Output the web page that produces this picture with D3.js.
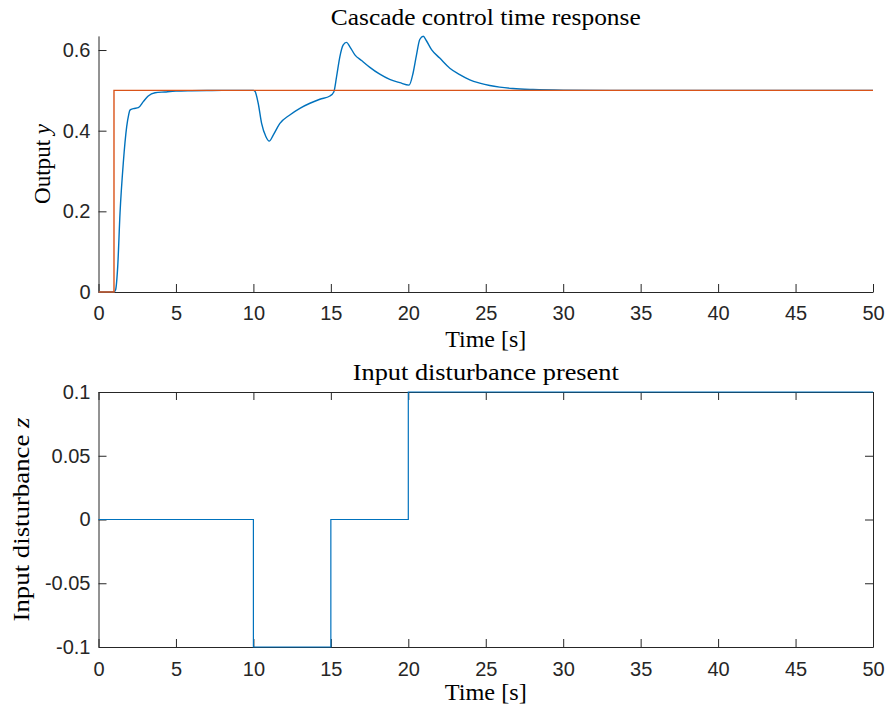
<!DOCTYPE html>
<html>
<head>
<meta charset="utf-8">
<script src="https://cdn.jsdelivr.net/npm/d3@7"></script>
<style>
  html, body { margin: 0; padding: 0; background: #fff; }
  svg { display: block; }
  .tick text { font-family: "Liberation Sans", Arial, sans-serif; font-size: 20px; fill: #262626; }
  .tick line { stroke: #262626; stroke-width: 1; }
  .domain { stroke: #262626; stroke-width: 1; }
  .lbl { font-family: "Liberation Serif", "Times New Roman", serif; font-size: 23px; fill: #000; }
</style>
</head>
<body>
<script>
// Closed-loop output y(t) of the cascade controller
const outT = [0, 1.0, 1.1, 1.24, 1.39, 1.6, 1.82, 1.95, 2.03, 2.25, 2.57, 2.89, 3.21, 3.65, 4.29, 5, 6, 7, 8, 10,
  10.1, 10.31, 10.53, 10.81, 11.02, 11.28, 11.71, 12.35, 13.0, 13.65, 14.29, 14.94, 15.19, 15.37, 15.58, 15.79,
  16.01, 16.23, 16.55, 16.98, 17.52, 18.16, 18.8, 19.45, 20.05, 20.31, 20.53, 20.74, 20.96, 21.17, 21.5, 22.03,
  22.68, 23.32, 23.97, 24.61, 25.26, 25.9, 26.76, 28.05, 30, 33, 50];
const outY = [0, 0, 0.005, 0.063, 0.196, 0.32, 0.41, 0.44, 0.451, 0.4545, 0.457, 0.472, 0.486, 0.494, 0.496, 0.498, 0.499, 0.4995, 0.5, 0.5,
  0.498, 0.468, 0.418, 0.385, 0.374, 0.389, 0.418, 0.439, 0.4555, 0.468, 0.478, 0.486, 0.496, 0.534, 0.583, 0.612,
  0.619, 0.608, 0.588, 0.574, 0.557, 0.540, 0.527, 0.519, 0.513, 0.543, 0.588, 0.626, 0.634, 0.623, 0.601, 0.580,
  0.555, 0.539, 0.526, 0.518, 0.512, 0.508, 0.5045, 0.502, 0.5005, 0.5, 0.5];

// Reference step
const refT = [0, 1, 1, 50];
const refY = [0, 0, 0.5, 0.5];

// Input disturbance z(t)
const distT = [0, 10, 10, 15, 15, 20, 20, 50];
const distZ = [0, 0, -0.1, -0.1, 0, 0, 0.1, 0.1];

// Axis ticks
const timeTicks = [0, 5, 10, 15, 20, 25, 30, 35, 40, 45, 50];
const outTicks = [0, 0.2, 0.4, 0.6];
const outTickLabels = ["0", "0.2", "0.4", "0.6"];
const distTicks = [-0.1, -0.05, 0, 0.05, 0.1];
const distTickLabels = ["-0.1", "-0.05", "0", "0.05", "0.1"];

const W = 889, H = 714;
const BLUE = "#0072BD", ORANGE = "#D95319";
const svg = d3.select("body").append("svg").attr("width", W).attr("height", H);

const x0 = 98.5, x1 = 873;
const x = d3.scaleLinear().domain([0, 50]).range([x0, x1]);

const yTop = d3.scaleLinear().domain([0, 0.635]).range([292, 35.9]);
const yBot = d3.scaleLinear().domain([-0.1, 0.1]).range([647, 392]);

const TL = 8;
function fmt(ticks, labels) { return d => labels[ticks.indexOf(d)]; }

// ---- Top panel: output response ----
const gTop = svg.append("g");
gTop.append("g").attr("transform", `translate(0,${yTop(0)})`)
  .call(d3.axisBottom(x).tickValues(timeTicks).tickSizeInner(-TL).tickSizeOuter(0).tickPadding(14).tickFormat(d3.format("d")));
gTop.append("g").attr("transform", `translate(${x0},0)`)
  .call(d3.axisLeft(yTop).tickValues(outTicks).tickSizeInner(-TL).tickSizeOuter(0).tickPadding(8).tickFormat(fmt(outTicks, outTickLabels)));

const lineOut = d3.line().x((d, i) => x(outT[i])).y((d, i) => yTop(outY[i])).curve(d3.curveMonotoneX);
gTop.append("path").attr("d", lineOut(outY)).attr("fill", "none").attr("stroke", BLUE).attr("stroke-width", 1.4);
const lineRef = d3.line().x((d, i) => x(refT[i])).y((d, i) => yTop(refY[i]));
gTop.append("path").attr("d", lineRef(refY)).attr("fill", "none").attr("stroke", ORANGE).attr("stroke-width", 1.4);

gTop.append("text").attr("class", "lbl").attr("x", (x0 + x1) / 2).attr("y", 25)
  .attr("text-anchor", "middle").attr("textLength", 310).attr("lengthAdjust", "spacingAndGlyphs")
  .text("Cascade control time response");
gTop.append("text").attr("class", "lbl").attr("x", (x0 + x1) / 2).attr("y", 347)
  .attr("text-anchor", "middle").attr("textLength", 81).attr("lengthAdjust", "spacingAndGlyphs")
  .text("Time [s]");
const yl1 = gTop.append("text").attr("class", "lbl")
  .attr("transform", `translate(50,${(yTop(0) + yTop(0.635)) / 2}) rotate(-90)`)
  .attr("text-anchor", "middle").attr("textLength", 80).attr("lengthAdjust", "spacingAndGlyphs");
yl1.append("tspan").text("Output ");
yl1.append("tspan").attr("font-style", "italic").text("y");

// ---- Bottom panel: input disturbance ----
const gBot = svg.append("g");
gBot.append("g").attr("transform", `translate(0,${yBot(-0.1)})`)
  .call(d3.axisBottom(x).tickValues(timeTicks).tickSizeInner(-TL).tickSizeOuter(0).tickPadding(15).tickFormat(d3.format("d")));
gBot.append("g").attr("transform", `translate(0,${yBot(0.1)})`)
  .call(d3.axisTop(x).tickValues(timeTicks).tickSizeInner(-TL).tickSizeOuter(0).tickFormat(""));
gBot.append("g").attr("transform", `translate(${x0},0)`)
  .call(d3.axisLeft(yBot).tickValues(distTicks).tickSizeInner(-TL).tickSizeOuter(0).tickPadding(8).tickFormat(fmt(distTicks, distTickLabels)));
gBot.append("g").attr("transform", `translate(${x1},0)`)
  .call(d3.axisRight(yBot).tickValues(distTicks).tickSizeInner(-TL).tickSizeOuter(0).tickFormat(""));

const lineDist = d3.line().x((d, i) => x(distT[i])).y((d, i) => yBot(distZ[i]));
gBot.append("path").attr("d", lineDist(distZ)).attr("fill", "none").attr("stroke", BLUE).attr("stroke-width", 1.2);

gBot.append("text").attr("class", "lbl").attr("x", (x0 + x1) / 2).attr("y", 380)
  .attr("text-anchor", "middle").attr("textLength", 266).attr("lengthAdjust", "spacingAndGlyphs")
  .text("Input disturbance present");
gBot.append("text").attr("class", "lbl").attr("x", (x0 + x1) / 2).attr("y", 700)
  .attr("text-anchor", "middle").attr("textLength", 82).attr("lengthAdjust", "spacingAndGlyphs")
  .text("Time [s]");
const yl2 = gBot.append("text").attr("class", "lbl")
  .attr("transform", `translate(29,${(yBot(-0.1) + yBot(0.1)) / 2}) rotate(-90)`)
  .attr("text-anchor", "middle").attr("textLength", 204).attr("lengthAdjust", "spacingAndGlyphs");
yl2.append("tspan").text("Input disturbance ");
yl2.append("tspan").attr("font-style", "italic").text("z");
</script>
</body>
</html>
